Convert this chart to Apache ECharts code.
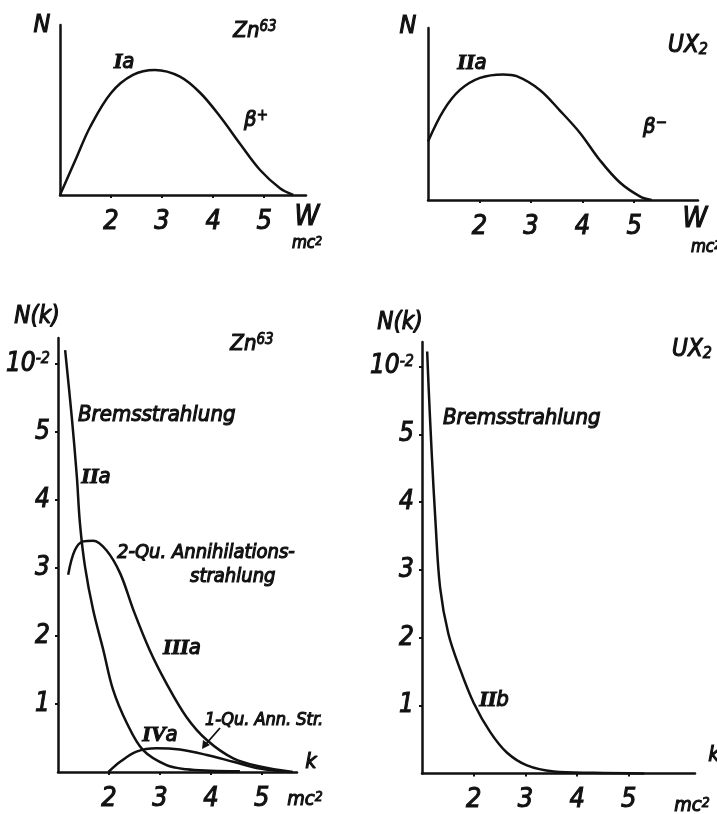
<!DOCTYPE html>
<html><head><meta charset="utf-8">
<script src="https://cdn.jsdelivr.net/npm/echarts@6/dist/echarts.min.js"></script>
<style>html,body{margin:0;padding:0;background:#fff}#c{width:717px;height:814px}</style>
</head><body><div id="c"></div>
<script>
// ---- data ----
const xTicks = [2, 3, 4, 5];
const yTicksLower = [1, 2, 3, 4, 5, 6];          // 6 is labelled "10^-2"
// Panel 1: Zn63 beta+ spectrum (W in mc^2, N arbitrary)
const zn_W = [1.0, 1.33, 1.59, 2.0, 2.43, 2.86, 3.35, 3.75, 4.14, 4.53, 4.92, 5.31, 5.57];
const zn_N = [0.0, 0.225, 0.40, 0.60, 0.706, 0.735, 0.696, 0.60, 0.46, 0.30, 0.147, 0.04, 0.0];
// Panel 2: UX2 beta- spectrum
const ux_W = [1.0, 1.30, 1.62, 2.01, 2.46, 2.72, 3.17, 3.56, 3.95, 4.34, 4.73, 5.12, 5.34];
const ux_N = [0.34, 0.52, 0.64, 0.71, 0.73, 0.72, 0.64, 0.52, 0.39, 0.23, 0.10, 0.02, 0.0];
// Panel 3: Zn63 photon spectra N(k)
const znBrems_k = [1.14, 1.27, 1.37, 1.43, 1.53, 1.69, 1.89, 2.08, 2.35, 2.67, 3.13, 3.52, 4.0, 4.57];
const znBrems_N = [6.2, 5.22, 4.34, 3.66, 3.02, 2.38, 1.79, 1.21, 0.72, 0.32, 0.10, 0.04, 0.02, 0.01];
const zn2Q_k = [1.20, 1.33, 1.50, 1.69, 1.95, 2.22, 2.48, 2.80, 3.13, 3.52, 3.92, 4.44, 4.96, 5.61];
const zn2Q_N = [2.90, 3.26, 3.39, 3.40, 3.26, 2.92, 2.38, 1.79, 1.30, 0.81, 0.47, 0.20, 0.08, 0.0];
const zn1Q_k = [1.99, 2.22, 2.54, 2.93, 3.39, 3.92, 4.44, 4.96, 5.55];
const zn1Q_N = [0.0, 0.15, 0.30, 0.35, 0.33, 0.25, 0.15, 0.05, 0.0];
// Panel 4: UX2 Bremsstrahlung
const uxBrems_k = [1.10, 1.13, 1.19, 1.26, 1.35, 1.51, 1.74, 2.0, 2.32, 2.64, 3.03, 3.55, 4.32, 5.3];
const uxBrems_N = [6.22, 5.66, 4.69, 3.72, 2.74, 2.06, 1.53, 1.04, 0.61, 0.31, 0.12, 0.03, 0.01, 0.0];

// ---- chart ----
const FONT = "'DejaVu Sans Condensed','DejaVu Sans',sans-serif";
const INK = '#111';
const zip = (a, b) => a.map((v, i) => [v, b[i]]);
const chart = echarts.init(document.getElementById('c'), null, {renderer: 'canvas'});

const grids = [
  {left: 60, top: 25, width: 246, height: 170},
  {left: 428, top: 28, width: 270, height: 172},
  {left: 58, top: 338, width: 239, height: 434},
  {left: 422, top: 342, width: 273, height: 436}
];
const xMax = [5.82, 6.24, 5.69, 6.28];
const yMax = [1.0, 1.0, 6.38, 6.36];

const xAxes = grids.map((g, i) => ({
  type: 'value', gridIndex: i, min: 1, max: xMax[i],
  axisLine: {show: true, onZero: false, lineStyle: {color: INK, width: 2.5}},
  axisTick: {show: true, length: 3, customValues: xTicks, lineStyle: {color: INK, width: 2}},
  splitLine: {show: false},
  axisLabel: {
    color: INK, fontFamily: FONT, fontStyle: 'italic', fontSize: 27, margin: 13,
    customValues: xTicks, textBorderColor: INK, textBorderWidth: 1
  }
}));
const yAxes = grids.map((g, i) => ({
  type: 'value', gridIndex: i, min: 0, max: yMax[i],
  axisLine: {show: true, onZero: false, lineStyle: {color: INK, width: 2.5}},
  axisTick: {show: i >= 2, length: 3, customValues: yTicksLower, lineStyle: {color: INK, width: 2}},
  splitLine: {show: false},
  axisLabel: {
    show: i >= 2, color: INK, fontFamily: FONT, fontStyle: 'italic', fontSize: 26, margin: 8,
    customValues: yTicksLower, textBorderColor: INK, textBorderWidth: 1,
    formatter: v => (v === 6 ? '10{s|-2}' : String(v)),
    rich: {
      s: {fontFamily: FONT, fontStyle: 'italic', fontSize: 16, verticalAlign: 'top', lineHeight: 14, color: INK, textBorderColor: INK, textBorderWidth: 0.8}
    }
  }
}));

const line = (i, d) => ({
  type: 'line', xAxisIndex: i, yAxisIndex: i, data: d, smooth: 0.35,
  showSymbol: false, silent: true, lineStyle: {color: INK, width: 2.5}, clip: false
});

const T = (x, y, text, size, opt) => Object.assign({
  type: 'text', x: x, y: y, silent: true,
  style: Object.assign({text: text, fill: INK, font: `italic ${size}px ${FONT}`,
    stroke: INK, lineWidth: 1.1,
    align: 'center', verticalAlign: 'middle',
    rich: {
      sup: {fontFamily: FONT, fontStyle: 'italic', fontSize: Math.round(size * 0.7), verticalAlign: 'top', fill: INK, stroke: INK, lineWidth: 0.9},
      sub: {fontFamily: FONT, fontStyle: 'italic', fontSize: Math.round(size * 0.65), verticalAlign: 'bottom', fill: INK, stroke: INK, lineWidth: 0.9},
      r: {fontFamily: "'Liberation Serif',serif", fontWeight: 'bold', fontStyle: 'italic', fontSize: size, fill: INK}
    }}, opt || {})
});

const graphics = [
  // panel 1
  T(42, 25, 'N', 25), T(255, 31, 'Zn{sup|63}', 22), T(124, 62, '{r|I}a', 22),
  T(256, 120, 'β{sup|+}', 22), T(307, 218, 'W', 28), T(307, 244, 'mc{sup|2}', 17),
  // panel 2
  T(408, 26, 'N', 25), T(688, 46, 'UX{sub|2}', 24), T(472, 63, '{r|II}a', 22),
  T(655, 127, 'β{sup|−}', 22), T(695, 220, 'W', 28), T(706, 248, 'mc{sup|2}', 17),
  // panel 3
  T(37, 317, 'N(k)', 24), T(252, 344, 'Zn{sup|63}', 22),
  T(78, 415, 'Bremsstrahlung', 22, {align: 'left'}),
  T(96, 477, '{r|II}a', 22),
  T(117, 553, '2-Qu. Annihilations-', 20, {align: 'left'}),
  T(190, 577, 'strahlung', 20, {align: 'left'}),
  T(182, 648, '{r|III}a', 22),
  T(205, 720, '1-Qu. Ann. Str.', 18, {align: 'left'}),
  T(160, 735, '{r|IV}a', 22),
  T(311, 762, 'k', 22), T(305, 800, 'mc{sup|2}', 20),
  // panel 4
  T(400, 323, 'N(k)', 24), T(692, 350, 'UX{sub|2}', 24),
  T(443, 418, 'Bremsstrahlung', 22, {align: 'left'}),
  T(494, 700, '{r|II}b', 22),
  T(714, 755, 'k', 22), T(692, 806, 'mc{sup|2}', 20),
  // arrow for 1-Qu. Ann. Str.
  {type: 'line', silent: true, shape: {x1: 220, y1: 728, x2: 206, y2: 744}, style: {stroke: INK, lineWidth: 1.8}},
  {type: 'polygon', silent: true, shape: {points: [[202, 749], [203, 740], [210, 745]]}, style: {fill: INK}}
];

chart.setOption({
  animation: false,
  backgroundColor: '#fff',
  grid: grids,
  xAxis: xAxes,
  yAxis: yAxes,
  series: [
    line(0, zip(zn_W, zn_N)),
    line(1, zip(ux_W, ux_N)),
    line(2, zip(znBrems_k, znBrems_N)),
    line(2, zip(zn2Q_k, zn2Q_N)),
    line(2, zip(zn1Q_k, zn1Q_N)),
    line(3, zip(uxBrems_k, uxBrems_N))
  ],
  graphic: graphics
});
</script></body></html>
